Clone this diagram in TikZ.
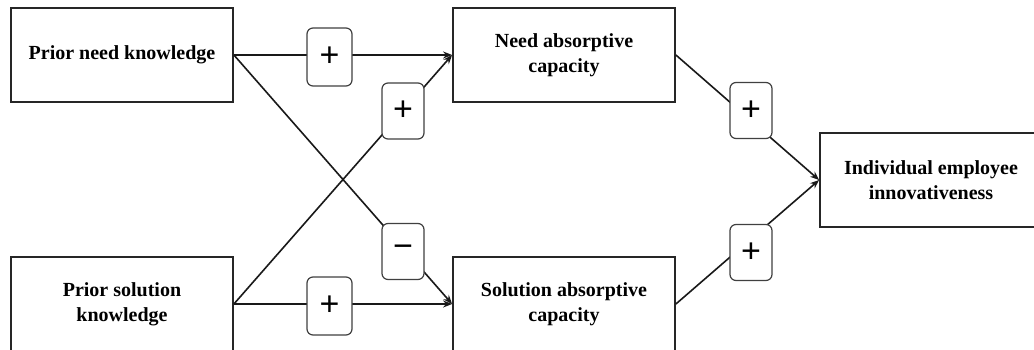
\documentclass[tikz,border=0pt]{standalone}
\usepackage{fontspec}
\setmainfont{Liberation Serif}
\newfontfamily\signfont{Liberation Sans}
\usetikzlibrary{arrows.meta}
\begin{document}
\begin{tikzpicture}[x=1pt,y=-1pt,
  concept/.style={draw=black!85, line width=1.8pt, minimum width=222pt, minimum height=94pt,
    align=center, inner sep=0pt, font=\fontsize{20}{25}\selectfont\bfseries},
  link/.style={line width=1.6pt, draw=black!90, -{Stealth[length=9pt,width=7pt]}},
  sign/.style={draw=black!75, line width=1.2pt, rounded corners=6pt, fill=white,
    minimum width=42pt, minimum height=56pt, inner sep=0pt, font=\signfont\fontsize{34}{34}\selectfont},
  widesign/.style={sign, minimum width=45pt, minimum height=58pt}]
\useasboundingbox (0,0) rectangle (1034,350);
\node[concept] (pnk) at (122,55) {Prior need knowledge};
\node[concept] (psk) at (122,304) {Prior solution\\knowledge};
\node[concept] (nac) at (564,55) {Need absorptive\\capacity};
\node[concept] (sac) at (564,304) {Solution absorptive\\capacity};
\node[concept] (iei) at (931,180) {Individual employee\\innovativeness};
\draw[link] (pnk.east) -- (nac.west);
\draw[link] (pnk.east) -- (sac.west);
\draw[link] (psk.east) -- (nac.west);
\draw[link] (psk.east) -- (sac.west);
\draw[link] (nac.east) -- (iei.west);
\draw[link] (sac.east) -- (iei.west);
\node[widesign] (s1) at (329.5,57) {+};
\node[sign] (s2) at (403,111) {+};
\node[sign] (s3) at (403,251.5) {−};
\node[widesign] (s4) at (329.5,306) {+};
\node[sign] (s5) at (751,110.5) {+};
\node[sign] (s6) at (751,252.5) {+};
\end{tikzpicture}
\end{document}
